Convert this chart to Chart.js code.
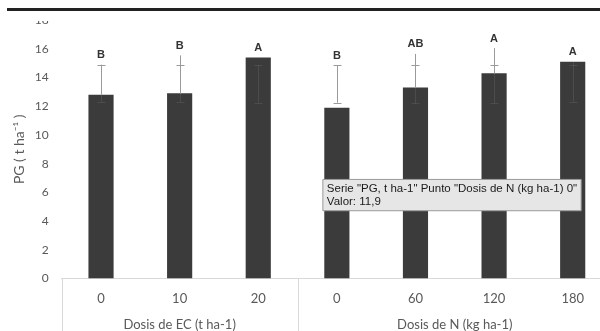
<!DOCTYPE html>
<html>
<head>
<meta charset="utf-8">
<title>PG</title>
<script src="https://cdn.jsdelivr.net/npm/chart.js@4.4.0/dist/chart.umd.min.js"></script>
<style>
  html, body { margin: 0; padding: 0; background: #fff; }
  #wrap { position: relative; width: 600px; height: 331px; overflow: hidden; }
  #wrap canvas { position: absolute; left: 0; top: 0; }
  #topCover { position: absolute; left: 0; top: 0; width: 600px; height: 21px; background: #fff; }
  #topRule { position: absolute; left: 7px; top: 8px; width: 593px; height: 3px; background: #222; }
</style>
</head>
<body>
<div id="wrap">
  <canvas id="chart" width="612" height="331" style="width:612px;height:331px"></canvas>
  <div id="topCover"></div>
  <div id="topRule"></div>
</div>
<script>
// Data
const seriesName = 'PG, t ha-1';
const categories = ['0', '10', '20', '0', '60', '120', '180'];
const groupNames = ['Dosis de EC (t ha-1)', 'Dosis de N (kg ha-1)'];
const groupSizes = [3, 4];
const pgValues = [12.8, 12.9, 15.4, 11.9, 13.3, 14.3, 15.1];
const errLow = [12.3, 12.3, 12.25, 12.25, 12.2, 12.2, 12.3];
const errCap = [14.9, 14.9, 14.85, 14.85, 14.85, 14.85, 14.9];
const errTop = [14.9, 15.55, 14.85, 14.85, 15.65, 16.05, 15.1];
const letters = ['B', 'B', 'A', 'B', 'AB', 'A', 'A'];
const yMax = 18;
const yStep = 2;
const tooltipIndex = 3;

Chart.defaults.font.family = 'Lato';
Chart.defaults.color = '#595959';

const groupOf = (i) => {
  let acc = 0;
  for (let g = 0; g < groupSizes.length; g++) {
    acc += groupSizes[g];
    if (i < acc) return g;
  }
  return groupSizes.length - 1;
};

Chart.Tooltip.positioners.fixedSpot = function (items, eventPosition) {
  return { x: eventPosition.x, y: eventPosition.y };
};

// error bars and significance letters
const errorBars = {
  id: 'errorBars',
  afterDatasetsDraw(chart) {
    const { ctx } = chart;
    const y = chart.scales.y;
    const meta = chart.getDatasetMeta(0);
    ctx.save();
    ctx.lineWidth = 1;
    meta.data.forEach((bar, i) => {
      const x = Math.round(bar.x) + 0.5;
      const top = bar.y;
      const seg = (x1, y1, x2, y2) => {
        ctx.strokeStyle = Math.max(y1, y2) <= top + 0.5 ? '#9a9a9a' : 'rgba(255,255,255,0.09)';
        ctx.beginPath();
        ctx.moveTo(x1, y1);
        ctx.lineTo(x2, y2);
        ctx.stroke();
      };
      const pTop = y.getPixelForValue(errTop[i]);
      const pCap = y.getPixelForValue(errCap[i]);
      const pLow = y.getPixelForValue(errLow[i]);
      // vertical line split at the bar top
      if (pTop < top) seg(x, pTop, x, Math.min(top, pLow));
      if (pLow > top) seg(x, Math.max(top, pTop), x, pLow);
      const capY = Math.round(pCap) + 0.5;
      const lowY = Math.round(pLow) + 0.5;
      seg(x - 4, capY, x + 4, capY);
      seg(x - 4, lowY, x + 4, lowY);

      // letter above the highest mark
      const highest = y.getPixelForValue(Math.max(pgValues[i], errTop[i]));
      ctx.fillStyle = '#333';
      ctx.font = 'bold 11px "Liberation Sans", Arial, sans-serif';
      ctx.textAlign = 'center';
      ctx.textBaseline = 'bottom';
      ctx.fillText(letters[i], bar.x, highest - 4);
    });
    ctx.restore();
  }
};

// grouped axis: separators and group names below the tick labels
const groupAxis = {
  id: 'groupAxis',
  afterDraw(chart) {
    const { ctx, chartArea } = chart;
    const x = chart.scales.x;
    const half = (x.getPixelForValue(1) - x.getPixelForValue(0)) / 2;
    ctx.save();
    ctx.strokeStyle = '#d9d9d9';
    ctx.lineWidth = 1;
    ctx.fillStyle = '#595959';
    ctx.font = '13px Lato';
    ctx.textAlign = 'center';
    ctx.textBaseline = 'middle';
    let start = 0;
    groupSizes.forEach((size, g) => {
      const left = x.getPixelForValue(start) - half;
      const right = x.getPixelForValue(start + size - 1) + half;
      [left, right].forEach((px) => {
        const lx = Math.round(px) + 0.5;
        ctx.beginPath();
        ctx.moveTo(lx, chartArea.bottom);
        ctx.lineTo(lx, chart.height);
        ctx.stroke();
      });
      ctx.fillText(groupNames[g], (left + right) / 2, chart.height - 6);
      start += size;
    });
    ctx.restore();
  }
};

const chart = new Chart(document.getElementById('chart'), {
  type: 'bar',
  data: {
    labels: categories,
    datasets: [{
      label: seriesName,
      data: pgValues,
      backgroundColor: '#3b3b3b',
      barPercentage: 0.32,
      categoryPercentage: 1
    }]
  },
  options: {
    responsive: false,
    animation: false,
    events: [],
    layout: { padding: { top: 13, left: 8, right: 0, bottom: 11 } },
    scales: {
      x: {
        grid: { display: false, drawTicks: false },
        border: { display: true, color: '#d9d9d9', width: 1 },
        ticks: { padding: 13, font: { size: 13 }, color: '#595959' }
      },
      y: {
        min: 0,
        max: yMax,
        grid: { display: false, drawTicks: false },
        border: { display: false },
        ticks: { stepSize: yStep, padding: 13, font: { size: 12 }, color: '#595959' },
        title: {
          display: true,
          text: 'PG ( t ha\u207B\u00B9 )',
          font: { size: 14 },
          color: '#595959',
          padding: { top: 3, bottom: -6 }
        }
      }
    },
    plugins: {
      legend: { display: false },
      tooltip: {
        enabled: true,
        position: 'fixedSpot',
        xAlign: 'left',
        yAlign: 'top',
        caretSize: 0,
        caretPadding: 0,
        cornerRadius: 0,
        backgroundColor: '#e6e6e6',
        borderColor: '#9a9a9a',
        borderWidth: 1,
        titleColor: '#1a1a1a',
        bodyColor: '#1a1a1a',
        titleFont: { family: 'Liberation Sans', size: 11.5, weight: 'normal', lineHeight: 1.1 },
        bodyFont: { family: 'Liberation Sans', size: 11.5, lineHeight: 1.1 },
        titleMarginBottom: 0,
        padding: { x: 4, y: 3 },
        displayColors: false,
        callbacks: {
          title: (items) => {
            const i = items[0].dataIndex;
            return 'Serie "' + seriesName + '" Punto "' + groupNames[groupOf(i)] + ' ' + categories[i] + '"';
          },
          label: (item) => 'Valor: ' + String(item.raw).replace('.', ',')
        }
      }
    }
  },
  plugins: [errorBars, groupAxis]
});

const tipBar = chart.getDatasetMeta(0).data[tooltipIndex];
chart.tooltip.setActiveElements(
  [{ datasetIndex: 0, index: tooltipIndex }],
  { x: tipBar.x - 14, y: chart.scales.y.getPixelForValue(6.9) }
);
chart.update();
</script>
</body>
</html>
